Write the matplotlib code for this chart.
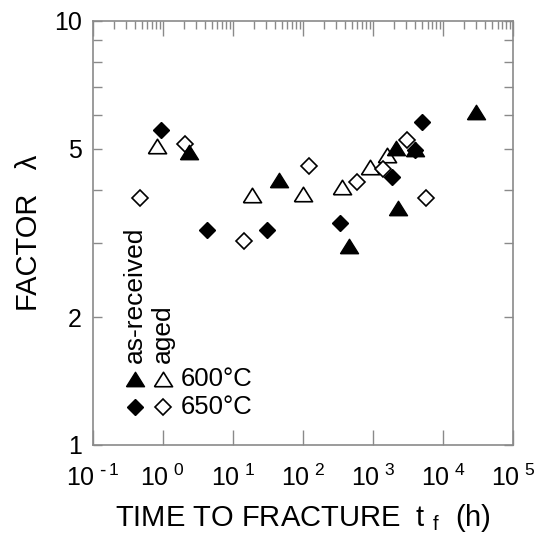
import matplotlib.pyplot as plt
import numpy as np
from matplotlib.ticker import FixedLocator, NullFormatter

plt.rcParams['font.family'] = ['Liberation Sans', 'DejaVu Sans']

# as-received, 600 C (filled triangles)
ar600_t = [2.37, 45.5, 458, 2150, 2290, 3970, 30000]
ar600_l = [4.92, 4.22, 2.94, 5.03, 3.62, 4.98, 6.10]
# aged, 600 C (open triangles)
ag600_t = [0.84, 18.5, 100, 356, 903, 1560]
ag600_l = [5.06, 3.88, 3.90, 4.07, 4.53, 4.82]
# as-received, 650 C (filled diamonds)
ar650_t = [0.93, 4.3, 30.3, 337, 1870, 3960, 5040]
ar650_l = [5.52, 3.21, 3.21, 3.33, 4.29, 4.96, 5.79]
# aged, 650 C (open diamonds)
ag650_t = [0.47, 2.07, 14.5, 123, 583, 1370, 3020, 5620]
ag650_l = [3.82, 5.12, 3.03, 4.55, 4.18, 4.47, 5.24, 3.82]

xdecades = [-1, 0, 1, 2, 3, 4, 5]
yticks = [1, 2, 3, 4, 5, 6, 7, 8, 9, 10]
ylabels = ['1', '2', '', '', '5', '', '', '', '', '10']

tri = [(-1, -0.8), (1, -0.8), (0, 0.8), (-1, -0.8)]
frame = '#8a8a8a'
tms, dms = 13, 7.8

fig = plt.figure(figsize=(5.39, 5.45), dpi=100)
ax = fig.add_axes([0.172, 0.1835, 0.78, 0.778])
ax.set_xscale('log')
ax.set_yscale('log')
ax.set_xlim(0.1, 1e5)
ax.set_ylim(1, 10)

ax.plot(ag600_t, ag600_l, linestyle='none', marker=tri, ms=tms, mfc='white', mec='black', mew=1.2, zorder=3)
ax.plot(ag650_t, ag650_l, linestyle='none', marker='D', ms=dms, mfc='white', mec='black', mew=1.2, zorder=3)
ax.plot(ar600_t, ar600_l, linestyle='none', marker=tri, ms=tms, mfc='black', mec='black', zorder=4)
ax.plot(ar650_t, ar650_l, linestyle='none', marker='D', ms=dms, mfc='black', mec='black', zorder=4)

for s in ax.spines.values():
    s.set_color(frame)
    s.set_linewidth(1.2)

ax.xaxis.set_major_locator(FixedLocator([10.0 ** d for d in xdecades]))
ax.set_xticklabels([r'$\mathregular{10^{\ %d}}$' % d if d >= 0 else r'$\mathregular{10^{\ \text{-}\,1}}$'
                    for d in xdecades])
ax.xaxis.set_minor_locator(FixedLocator([m * 10.0 ** d for d in xdecades[:-1] for m in range(2, 10)]))
ax.xaxis.set_minor_formatter(NullFormatter())
ax.tick_params(axis='x', which='major', direction='in', length=11, width=1, color=frame,
               top=True, bottom=True, labelsize=18, pad=14)
ax.tick_params(axis='x', which='minor', direction='in', length=6, width=1, color=frame,
               top=True, bottom=False)

ax.yaxis.set_major_locator(FixedLocator(yticks))
ax.yaxis.set_minor_locator(FixedLocator([]))
ax.set_yticklabels(ylabels)
ax.tick_params(axis='y', which='major', direction='in', length=6.5, width=1, color=frame,
               left=True, right=True, labelsize=18, pad=8)

ax.set_xlabel(r'TIME TO FRACTURE  t $_{\mathregular{f}}$  (h)', fontsize=21, labelpad=8)
ax.set_ylabel('FACTOR   λ', fontsize=21, labelpad=8)

# legend drawn by hand
lx1, lx2, lxt = 0.1006, 0.167, 0.209
ly1, ly2 = 0.156, 0.090
ax.plot([lx1], [ly1], transform=ax.transAxes, marker=tri, ms=tms, mfc='black', mec='black', linestyle='none')
ax.plot([lx2], [ly1], transform=ax.transAxes, marker=tri, ms=tms, mfc='white', mec='black', mew=1.2, linestyle='none')
ax.plot([lx1], [ly2], transform=ax.transAxes, marker='D', ms=dms, mfc='black', mec='black', linestyle='none')
ax.plot([lx2], [ly2], transform=ax.transAxes, marker='D', ms=dms, mfc='white', mec='black', mew=1.2, linestyle='none')
ax.text(lxt, ly1, '600°C', transform=ax.transAxes, fontsize=18.5, va='center', ha='left')
ax.text(lxt, ly2, '650°C', transform=ax.transAxes, fontsize=18.5, va='center', ha='left')
ax.text(lx1, 0.193, 'as-received', transform=ax.transAxes, fontsize=19, rotation=90, va='bottom', ha='center')
ax.text(lx2, 0.193, 'aged', transform=ax.transAxes, fontsize=19, rotation=90, va='bottom', ha='center')

fig.savefig('out.png', dpi=100)
